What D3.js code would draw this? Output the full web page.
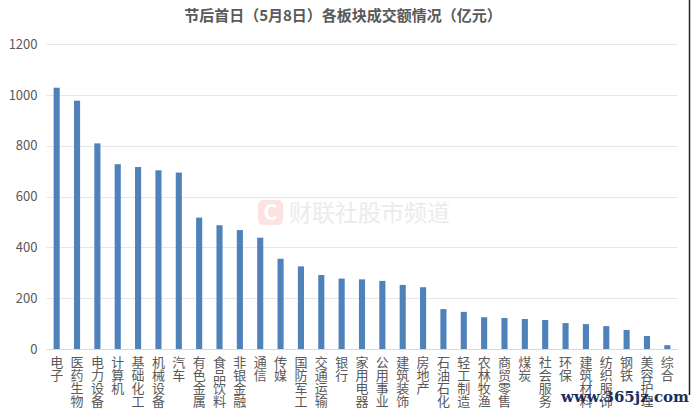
<!DOCTYPE html>
<html><head><meta charset="utf-8">
<script src="https://cdn.jsdelivr.net/npm/d3@7"></script>
<style>body{margin:0;background:#fff}svg{display:block}
.vl{writing-mode:vertical-rl;text-orientation:upright;}</style>
</head><body>
<svg id="c" width="693" height="414"></svg>
<script>
const categories = ["电子","医药生物","电力设备","计算机","基础化工","机械设备","汽车","有色金属","食品饮料","非银金融","通信","传媒","国防军工","交通运输","银行","家用电器","公用事业","建筑装饰","房地产","石油石化","轻工制造","农林牧渔","商贸零售","煤炭","社会服务","环保","建筑材料","纺织服饰","钢铁","美容护理","综合"];
const values = [1028,977,809,727,716,703,694,517,487,468,438,355,325,291,277,274,268,252,243,157,146,125,122,118,114,102,98,90,75,51,15];
const yTicks = [0,200,400,600,800,1000,1200];
const title = "节后首日（5月8日）各板块成交额情况（亿元）";

const svg = d3.select("#c");
const font = "'Noto Sans CJK SC','Noto Sans',sans-serif";
const x = d3.scaleBand().domain(categories).range([46.5,677.5]).paddingInner(0.7).paddingOuter(0.35);
const y = d3.scaleLinear().domain([0,1200]).range([349,44]);

// watermark
const wm = svg.append("g");
wm.append("rect").attr("x",258).attr("y",200).attr("width",25).attr("height",25).attr("rx",5).attr("fill","#fbe3e3");
wm.append("text").attr("x",270.5).attr("y",220).attr("text-anchor","middle").attr("font-family",font).attr("font-weight","bold").attr("font-size",21).attr("fill","#ffffff").text("C");
wm.append("text").attr("x",289).attr("y",221).attr("font-family",font).attr("font-size",23).attr("fill","#ebebeb").text("财联社股市频道");

// gridlines
svg.append("g").selectAll("line").data(yTicks.filter(d=>d>0)).join("line")
  .attr("x1",46.5).attr("x2",677.5).attr("y1",d=>Math.round(y(d))+0.5).attr("y2",d=>Math.round(y(d))+0.5)
  .attr("stroke","#e6e6e6").attr("stroke-width",1);

// y axis
const yAxis = svg.append("g").attr("transform","translate(46.5,0)")
  .call(d3.axisLeft(y).tickValues(yTicks).tickFormat(d3.format("d")).tickSize(0).tickPadding(9));
yAxis.select(".domain").remove();
yAxis.selectAll("text").attr("font-family",font).attr("font-size",13).attr("fill","#595959");

// bars
svg.append("g").selectAll("rect").data(values).join("rect")
  .attr("x",(d,i)=>x(categories[i])).attr("width",x.bandwidth())
  .attr("y",d=>y(d)).attr("height",d=>y(0)-y(d)).attr("fill","#4f81bd");

// x axis line
svg.append("line").attr("x1",46.5).attr("x2",677.5).attr("y1",349.5).attr("y2",349.5).attr("stroke","#d9d9d9");

// x labels vertical
svg.append("g").selectAll("text").data(categories).join("text")
  .attr("class","vl")
  .attr("x",d=>x(d)+x.bandwidth()/2).attr("y",356)
  .attr("font-family",font).attr("font-size",13).attr("fill","#595959")
  .text(d=>d);

// title
svg.append("text").attr("x",343).attr("y",21).attr("text-anchor","middle").attr("font-family",font)
  .attr("font-weight","bold").attr("font-size",15).attr("fill","#595959").text(title);

// right border line
svg.append("line").attr("x1",689.5).attr("x2",689.5).attr("y1",0).attr("y2",395).attr("stroke","#222").attr("stroke-width",1.5);

// site watermark
svg.append("text").attr("x",689).attr("y",402).attr("text-anchor","end").attr("font-family","'DejaVu Serif',serif")
  .attr("font-weight","bold").attr("font-size",15).attr("fill","#1c2e5c").text("www.365jz.com");
</script>
</body></html>
